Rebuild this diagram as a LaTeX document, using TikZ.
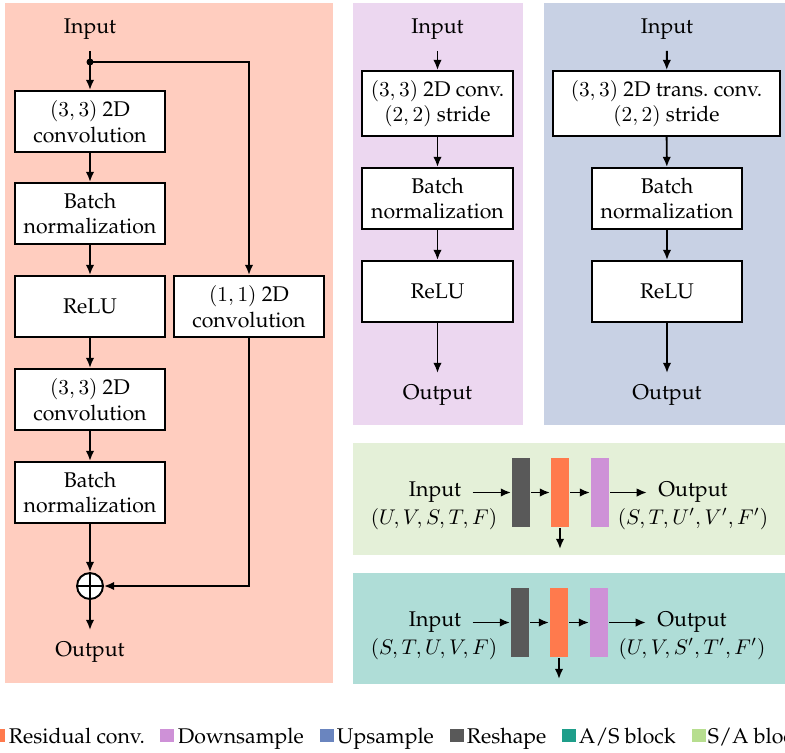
\documentclass[tikz,border=0pt]{standalone}
\usepackage[T1]{fontenc}
\usepackage{amsmath}
\usepackage{palatino}
\usepackage{tikz}
\usetikzlibrary{arrows.meta}

\definecolor{resbg}{RGB}{255,205,191}
\definecolor{downbg}{RGB}{236,215,240}
\definecolor{upbg}{RGB}{200,209,228}
\definecolor{sabg}{RGB}{228,240,216}
\definecolor{asbg}{RGB}{175,221,215}
\definecolor{reshapec}{RGB}{89,89,89}
\definecolor{resconvc}{RGB}{255,122,77}
\definecolor{downc}{RGB}{206,145,215}
\definecolor{upc}{RGB}{106,133,191}
\definecolor{asc}{RGB}{30,158,138}
\definecolor{sac}{RGB}{183,222,143}

\begin{document}
\begin{tikzpicture}[x=0.47pt, y=-0.47pt, line width=0.9pt, >={Latex[length=4.8pt,width=4pt]},
	blk/.style={rectangle, draw, fill=white, align=center, inner sep=1pt, minimum width=70.5pt, minimum height=28.7pt},
	lbl/.style={inner sep=5pt},
	bar/.style={rectangle, minimum width=8.5pt, minimum height=32.4pt, inner sep=0pt},
	key/.style={rectangle, minimum width=6.6pt, minimum height=6.1pt, inner sep=0pt, anchor=south west},
	keytext/.style={anchor=base west, inner sep=0pt}]

\clip (0,0) rectangle (785,752);

% panels
\fill[resbg]	(5,3)		rectangle	(333,683);
\fill[downbg]	(353,3)		rectangle	(523,425);
\fill[upbg]		(544,3)		rectangle	(785,425);
\fill[sabg]		(353,443)	rectangle	(785,555);
\fill[asbg]		(353,573)	rectangle	(785,684);

% residual conv. block
\path	(90,29)		node(in_res)		[lbl]						{Input}
		(90,62)		coordinate(split)
		(90,121.5)	node(conv_a)		[blk]						{$(3,3)$ 2D\\convolution}
		(90,213.5)	node(bn_a)			[blk]						{Batch\\normalization}
		(90,306.5)	node(relu_a)		[blk]						{ReLU}
		(90,399.5)	node(conv_b)		[blk]						{$(3,3)$ 2D\\convolution}
		(90,492.5)	node(bn_b)			[blk]						{Batch\\normalization}
		(249,306.5)	node(conv_skip)		[blk]						{$(1,1)$ 2D\\convolution}
		(90,586)	node(add)			[circle, draw, fill=white, minimum size=12.2pt, inner sep=0pt]	{}
		(90,652)	node(out_res)		[lbl]						{Output};

\draw		(in_res)			--						(split);
\fill		(split)				circle (3.5);
\draw[->]	(split)				--						(conv_a);
\draw[->]	(split)				-|						(conv_skip.north);
\draw[->]	(conv_a)			--						(bn_a);
\draw[->]	(bn_a)				--						(relu_a);
\draw[->]	(relu_a)			--						(conv_b);
\draw[->]	(conv_b)			--						(bn_b);
\draw[->]	(bn_b)				--						(add);
\draw[->]	(conv_skip.south)	|-						(add.east);
\draw[->]	(add)				--						(out_res);
\draw		(add.north)			--						(add.south)
			(add.west)			--						(add.east);

% downsample block
\path	(437.5,29)		node(in_down)		[lbl]						{Input}
		(437.5,103.5)	node(conv_down)		[blk, minimum width=71pt, minimum height=30.5pt]	{$(3,3)$ 2D conv.\\$(2,2)$ stride}
		(437.5,198.5)	node(bn_down)		[blk, minimum width=71pt]	{Batch\\normalization}
		(437.5,291.5)	node(relu_down)		[blk, minimum width=71pt]	{ReLU}
		(437.5,395)		node(out_down)		[lbl]						{Output};

\draw[->]	(in_down)		--		(conv_down);
\draw[->]	(conv_down)		--		(bn_down);
\draw[->]	(bn_down)		--		(relu_down);
\draw[->]	(relu_down)		--		(out_down);

% upsample block
\path	(667,29)		node(in_up)			[lbl]						{Input}
		(666.5,103.5)	node(conv_up)		[blk, minimum width=106.7pt, minimum height=30.5pt]	{$(3,3)$ 2D trans.\ conv.\\$(2,2)$ stride}
		(667,198.5)		node(bn_up)			[blk]						{Batch\\normalization}
		(667,291.5)		node(relu_up)		[blk]						{ReLU}
		(667,395)		node(out_up)		[lbl]						{Output};

\draw[->]	(in_up)			--		(conv_up);
\draw[->]	(conv_up)		--		(bn_up);
\draw[->]	(bn_up)			--		(relu_up);
\draw[->]	(relu_up)		--		(out_up);

% S/A block
\path	(435,492.5)		node(in_sa)			[lbl]						{Input}
		(434,519)		node(in_sa_dim)		[inner sep=0pt]				{$(U,V,S,T,F)$}
		(521,492.5)		node(reshape_sa)	[bar, fill=reshapec]		{}
		(560,492.5)		node(res_sa)		[bar, fill=resconvc]		{}
		(600,492.5)		node(down_sa)		[bar, fill=downc]			{}
		(560,549)		coordinate(skip_sa)
		(693,492.5)		node(out_sa)		[lbl]						{Output}
		(693,519)		node(out_sa_dim)	[inner sep=0pt]				{$(S,T,U',V',F')$};

\draw[->]	(in_sa)			--		(reshape_sa);
\draw[->]	(reshape_sa)	--		(res_sa);
\draw[->]	(res_sa)		--		(down_sa);
\draw[->]	(down_sa)		--		(out_sa);
\draw[->]	(res_sa)		--		(skip_sa);

% A/S block
\path	(435,622.5)		node(in_as)			[lbl]						{Input}
		(434,649)		node(in_as_dim)		[inner sep=0pt]				{$(S,T,U,V,F)$}
		(520,622.5)		node(reshape_as)	[bar, fill=reshapec]		{}
		(559,622.5)		node(res_as)		[bar, fill=resconvc]		{}
		(599,622.5)		node(down_as)		[bar, fill=downc]			{}
		(559,679)		coordinate(skip_as)
		(692,622.5)		node(out_as)		[lbl]						{Output}
		(692,649)		node(out_as_dim)	[inner sep=0pt]				{$(U,V,S',T',F')$};

\draw[->]	(in_as)			--		(reshape_as);
\draw[->]	(reshape_as)	--		(res_as);
\draw[->]	(res_as)		--		(down_as);
\draw[->]	(down_as)		--		(out_as);
\draw[->]	(res_as)		--		(skip_as);

% legend
\path	(-10,743)	node(key_res)		[key, fill=resconvc]	{}
		(8,743)		node(txt_res)		[keytext]				{Residual conv.}
		(159,743)	node(key_down)		[key, fill=downc]		{}
		(177,743)	node(txt_down)		[keytext]				{Downsample}
		(319,743)	node(key_up)		[key, fill=upc]			{}
		(336,743)	node(txt_up)		[keytext]				{Upsample}
		(449,743)	node(key_reshape)	[key, fill=reshapec]	{}
		(466,743)	node(txt_reshape)	[keytext]				{Reshape}
		(561,743)	node(key_as)		[key, fill=asc]			{}
		(578,743)	node(txt_as)		[keytext]				{A/S block}
		(691,743)	node(key_sa)		[key, fill=sac]			{}
		(707,743)	node(txt_sa)		[keytext]				{S/A block};
\end{tikzpicture}
\end{document}
